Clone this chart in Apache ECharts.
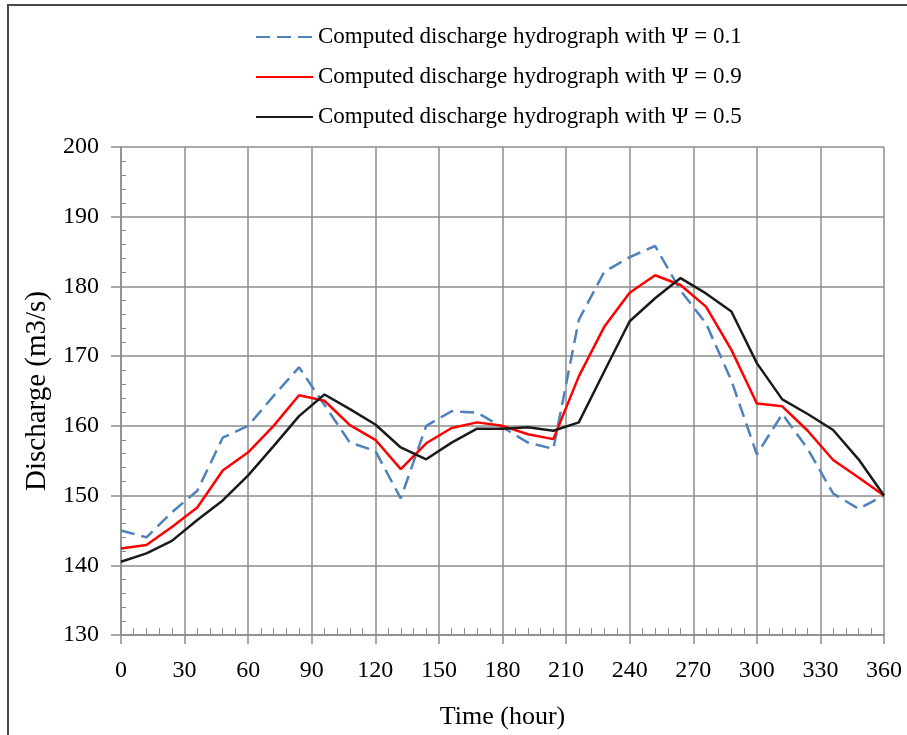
<!DOCTYPE html>
<html><head><meta charset="utf-8">
<script src="https://cdn.jsdelivr.net/npm/echarts@6/dist/echarts.min.js"></script>
<style>html,body{margin:0;padding:0;background:#fff}#c{width:907px;height:735px}</style>
</head><body><div id="c"></div>
<script>
const hours = [0,12,24,36,48,60,72,84,96,108,120,132,144,156,168,180,192,204,216,228,240,252,264,276,288,300,312,324,336,348,360];
const psi01 = [145.0,144.0,147.6,150.7,158.3,160.0,164.3,168.4,163.0,157.6,156.4,149.6,160.0,162.1,161.9,159.8,157.6,156.7,175.2,182.1,184.2,185.8,179.4,174.7,166.5,155.9,161.7,156.7,150.3,148.1,150.0];
const psi09 = [142.4,142.9,145.5,148.3,153.6,156.2,160.0,164.4,163.6,160.1,158.0,153.8,157.5,159.7,160.5,160.0,158.8,158.1,167.1,174.2,179.1,181.6,180.2,177.1,170.9,163.2,162.8,159.3,155.1,152.6,150.0];
const psi05 = [140.5,141.7,143.5,146.5,149.3,152.9,157.1,161.4,164.5,162.4,160.2,156.9,155.2,157.6,159.6,159.6,159.8,159.3,160.5,167.8,175.0,178.3,181.2,179.0,176.4,169.0,163.8,161.7,159.4,155.2,150.0];
const seriesNames = ['Computed discharge hydrograph with \u03A8 = 0.1','Computed discharge hydrograph with \u03A8 = 0.9','Computed discharge hydrograph with \u03A8 = 0.5'];
const xName = 'Time (hour)';
const yName = 'Discharge (m3/s)';

const FONT = "'Liberation Serif','Times New Roman',serif";
const GRID = '#8c8c8c';
const chart = echarts.init(document.getElementById('c'), null, {renderer:'canvas'});
const pair = arr => hours.map((h,i)=>[h, arr[i]]);
chart.setOption({
  animation:false,
  backgroundColor:'#fff',
  graphic:[{type:'rect', shape:{x:8,y:5,width:1000,height:1000}, style:{fill:'none', stroke:'#4a4a4a', lineWidth:2}, silent:true}],
  legend:{
    orient:'vertical', left:250, top:20, itemWidth:57, itemHeight:14, itemGap:16,
    itemStyle:{opacity:0},
    textStyle:{fontFamily:FONT, fontSize:23, lineHeight:24, color:'#000'},
    data:seriesNames
  },
  grid:{left:121, right:23, top:147, bottom:96, containLabel:false},
  xAxis:{
    type:'value', min:0, max:360, interval:30,
    name:xName, nameLocation:'middle', nameGap:69,
    nameTextStyle:{fontFamily:FONT, fontSize:26, color:'#000'},
    axisLine:{show:true, lineStyle:{color:GRID, width:1.5}},
    axisTick:{show:true, length:9, lineStyle:{color:GRID, width:1.5}},
    minorTick:{show:true, splitNumber:5, length:-7, lineStyle:{color:GRID, width:1}},
    axisLabel:{fontFamily:FONT, fontSize:24, color:'#000', margin:24},
    splitLine:{show:true, lineStyle:{color:GRID, width:1.5}}
  },
  yAxis:{
    type:'value', min:130, max:200, interval:10,
    name:yName, nameLocation:'middle', nameGap:63, nameRotate:90,
    nameTextStyle:{fontFamily:FONT, fontSize:29, color:'#000'},
    axisLine:{show:true, lineStyle:{color:GRID, width:1.5}},
    axisTick:{show:true, length:10, lineStyle:{color:GRID, width:1.5}},
    minorTick:{show:true, splitNumber:5, length:-5, lineStyle:{color:GRID, width:1}},
    axisLabel:{fontFamily:FONT, fontSize:24, color:'#000', margin:22},
    splitLine:{show:true, lineStyle:{color:GRID, width:1.5}}
  },
  series:[
    {name:seriesNames[0], type:'line', data:pair(psi01), symbol:'none', lineStyle:{color:'#4f81bd', width:2.5, type:[14,7]}, itemStyle:{color:'#4f81bd'}},
    {name:seriesNames[1], type:'line', data:pair(psi09), symbol:'none', lineStyle:{color:'#ff0000', width:2.5}, itemStyle:{color:'#ff0000'}},
    {name:seriesNames[2], type:'line', data:pair(psi05), symbol:'none', lineStyle:{color:'#1a1a1a', width:2.5}, itemStyle:{color:'#1a1a1a'}}
  ]
});
</script></body></html>
